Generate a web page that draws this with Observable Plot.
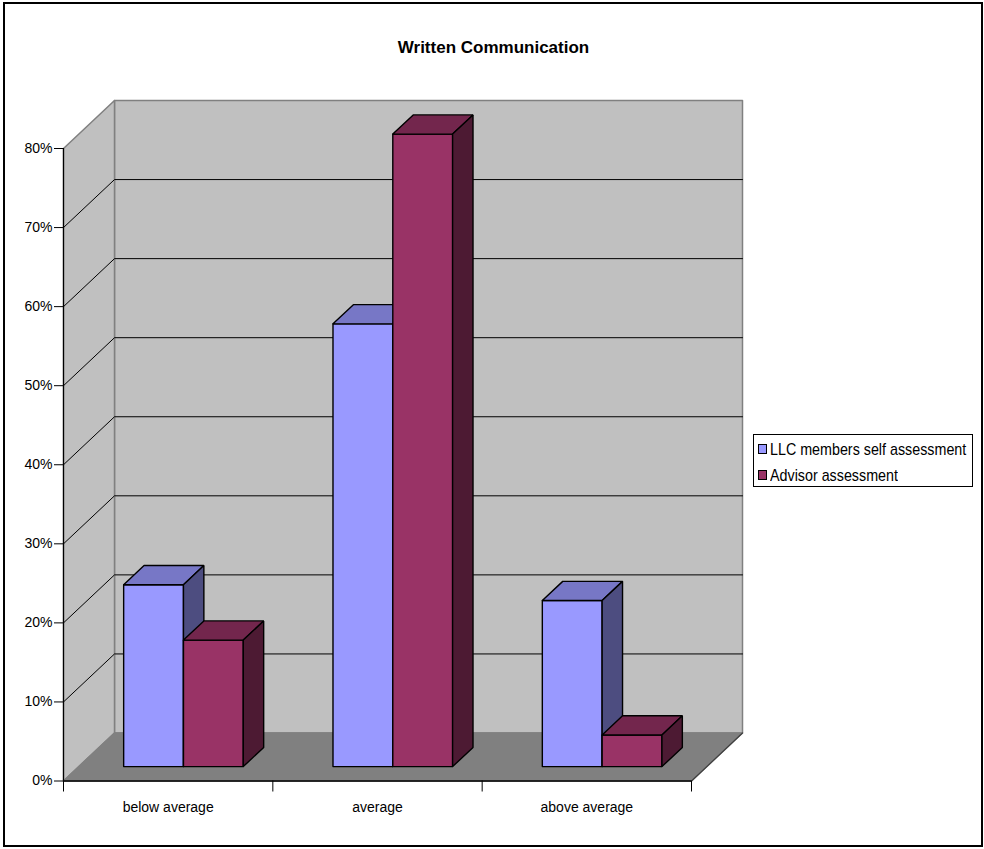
<!DOCTYPE html>
<html><head><meta charset="utf-8">
<script src="https://cdn.jsdelivr.net/npm/d3@7"></script>
<script src="https://cdn.jsdelivr.net/npm/@observablehq/plot@0.6"></script>
<style>
body{margin:0;background:#fff;}
#wrap{position:relative;width:984px;height:849px;font-family:"Liberation Sans",Arial,sans-serif;color:#000;}
#chart{position:absolute;left:0;top:0;}
#title{position:absolute;left:0;top:38.6px;width:987px;text-align:center;font-weight:bold;font-size:17px;line-height:17px;}
#legend{position:absolute;left:753px;top:434px;width:218px;height:51px;border:1px solid #000;background:#fff;}
.item{position:absolute;left:4px;font-size:14.3px;line-height:14px;white-space:nowrap;}
.sw{position:absolute;left:0px;width:7px;height:8px;border:1px solid #000;}
.lt{position:absolute;left:12px;top:0;transform:scaleY(1.1);transform-origin:left bottom;}
#frame{position:absolute;left:3px;top:2px;width:976px;height:841px;border:2px solid #000;}
</style></head>
<body><div id="wrap"><div id="chart"></div><div id="title">Written Communication</div><div id="legend"></div><div id="frame"></div></div>
<script>
// ---- data ----
const categories = ["below average", "average", "above average"];
const seriesNames = ["LLC members self assessment", "Advisor assessment"];
const llcValues = [0.23, 0.56, 0.21];
const advisorValues = [0.16, 0.80, 0.04];
const yTicks = [0, 0.1, 0.2, 0.3, 0.4, 0.5, 0.6, 0.7, 0.8];
const xBoundaries = [0, 1, 2, 3];
const xLabelPos = [0.5, 1.5, 2.5];

// ---- styles ----
const seriesFront = ["#9999FF", "#993366"];
const seriesTop = ["#7777C6", "#73264D"];
const seriesSide = ["#4D4D80", "#4D1A33"];

// ---- geometry (depth expressed in data units of the linear scales) ----
const W = 984, H = 849;
const mL = 63, mR = 293, mT = 148, mB = 68.5;
const xPx = (W - mL - mR) / 3;          // px per category
const yPx = (H - mT - mB) / 0.8;        // px per unit value
const DX = 51 / xPx, DY = 48 / yPx;     // full depth offset
const P = (x, y, d) => ({x: x + d * DX, y: y + d * DY});
const poly = (id, fill, pts) => [...pts, pts[0]].map(p => ({...p, id, fill}));

const walls = [
  ...poly("back", "#C0C0C0", [P(0,0,1), P(3,0,1), P(3,0.8,1), P(0,0.8,1)]),
  ...poly("side", "#C0C0C0", [P(0,0,0), P(0,0,1), P(0,0.8,1), P(0,0.8,0)]),
  ...poly("floor", "#808080", [P(0,0,0), P(3,0,0), P(3,0,1), P(0,0,1)])
];
const grid = yTicks.filter(v => v > 0 && v < 0.8).flatMap(v =>
  [P(0,v,0), P(0,v,1), P(3,v,1)].map(p => ({...p, id: "g" + v})));

const barW = 1 / 3.5, gapL = 0.75 * barW, d0 = 0.3, d1 = 0.7;
const bars = [];
categories.forEach((c, i) => {
  [llcValues[i], advisorValues[i]].forEach((v, s) => {
    const x0 = i + gapL + s * barW, x1 = x0 + barW, id = c + s;
    bars.push(...poly(id + "f", seriesFront[s], [P(x0,0,d0), P(x1,0,d0), P(x1,v,d0), P(x0,v,d0)]));
    bars.push(...poly(id + "t", seriesTop[s], [P(x0,v,d0), P(x1,v,d0), P(x1,v,d1), P(x0,v,d1)]));
    bars.push(...poly(id + "s", seriesSide[s], [P(x1,0,d0), P(x1,0,d1), P(x1,v,d1), P(x1,v,d0)]));
  });
});

const chart = Plot.plot({
  width: W, height: H,
  marginLeft: mL, marginRight: mR, marginTop: mT, marginBottom: mB,
  x: {domain: [0, 3], label: null},
  y: {domain: [0, 0.8], label: null},
  color: {type: "identity"},
  style: {fontFamily: "'Liberation Sans', Arial, sans-serif", fontSize: "14px", color: "#000", background: "transparent", overflow: "visible"},
  marks: [
    Plot.line(walls, {x: "x", y: "y", z: "id", fill: "fill", stroke: "#808080", strokeWidth: 1.5}),
    Plot.line([P(3,0,0), P(3,0,1)], {x: "x", y: "y", stroke: "#404040", strokeWidth: 1.2}),
    Plot.line(grid, {x: "x", y: "y", z: "id", stroke: "#000", strokeWidth: 1}),
    Plot.ruleX([0], {y1: 0, y2: 0.8, stroke: "#000", strokeWidth: 1.2}),
    Plot.ruleY([0], {x1: 0, x2: 3, stroke: "#000", strokeWidth: 1.5}),
    Plot.line(bars, {x: "x", y: "y", z: "id", fill: "fill", stroke: "#000", strokeWidth: 1.4, strokeLinejoin: "miter"}),
    Plot.axisY(yTicks, {tickSize: 9, tickPadding: 2, fontSize: 14, tickFormat: d => Math.round(d * 100) + "%"}),
    Plot.axisX(xBoundaries, {tickSize: 11, tickFormat: () => ""}),
    Plot.axisX(xLabelPos, {tickSize: 0, tickPadding: 21, fontSize: 14, tickFormat: d => categories[Math.floor(d)]})
  ]
});
document.getElementById("chart").appendChild(chart);

// legend
const leg = document.getElementById("legend");
seriesNames.forEach((n, s) => {
  const it = document.createElement("div");
  it.className = "item";
  it.style.top = (8 + s * 25.5) + "px";
  it.innerHTML = `<div class="sw" style="top:1px;background:${seriesFront[s]}"></div><div class="lt">${n}</div>`;
  leg.appendChild(it);
});
</script>
</body></html>
